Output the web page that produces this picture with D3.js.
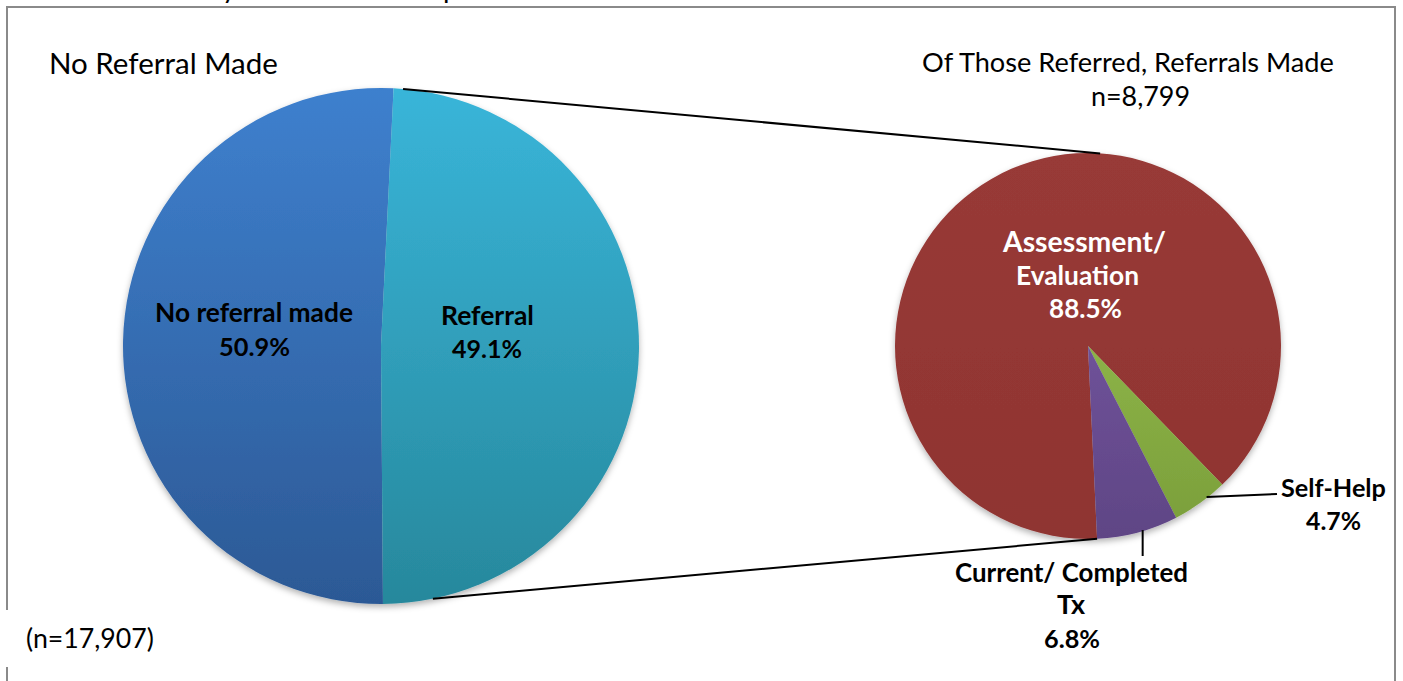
<!DOCTYPE html>
<html>
<head>
<meta charset="utf-8">
<script src="https://cdn.jsdelivr.net/npm/d3@7"></script>
<style>
  html, body { margin: 0; padding: 0; background: #fff; }
  svg { display: block; }
  text { font-family: Lato, "Open Sans", "DejaVu Sans", sans-serif; fill: #000; }
</style>
</head>
<body>
<svg id="chart" width="1403" height="681"></svg>
<script>
// Referral outcome, all screened (n=17,907)
const overallCategories = ["No referral made", "Referral"];
const overallValues = [50.9, 49.1];
const overallColors = [["#3e80ce", "#2c5995"], ["#39b5d9", "#27889c"]];

// Referral type, of those referred (n=8,799)
const referredCategories = ["Assessment/ Evaluation", "Self-Help", "Current/ Completed Tx"];
const referredValues = [88.5, 4.7, 6.8];
const referredColors = [["#983a37", "#8f3431"], ["#9ec755", "#7a9e3a"], ["#7e5fac", "#5f4585"]];

const svg = d3.select("#chart");
const W = 1403, H = 681;
const rad = d => d * Math.PI / 180;

const defs = svg.append("defs");
const shadow = defs.append("filter").attr("id", "pieShadow")
  .attr("x", "-10%").attr("y", "-10%").attr("width", "120%").attr("height", "125%");
shadow.append("feDropShadow").attr("dx", 0).attr("dy", 3).attr("stdDeviation", 3)
  .attr("flood-color", "#000").attr("flood-opacity", 0.3);

// frame
const frame = svg.append("g").attr("stroke", "#8a8a8a").attr("stroke-width", 2).attr("fill", "none");
frame.append("line").attr("x1", 6).attr("y1", 7).attr("x2", 1396).attr("y2", 7);
frame.append("line").attr("x1", 7).attr("y1", 6).attr("x2", 7).attr("y2", 610);
frame.append("line").attr("x1", 7).attr("y1", 667).attr("x2", 7).attr("y2", H);
frame.append("line").attr("x1", 1395).attr("y1", 6).attr("x2", 1395).attr("y2", H);

// descenders of the caption line above the frame
svg.append("text").attr("x", 222).attr("y", -2).attr("font-size", 28).text("y");
svg.append("text").attr("x", 443).attr("y", -2).attr("font-size", 28).text("p");

// vertical shading per slice, in the pie group's local coordinates
function gradient(id, r, stops) {
  const g = defs.append("linearGradient").attr("id", id)
    .attr("gradientUnits", "userSpaceOnUse")
    .attr("x1", 0).attr("x2", 0).attr("y1", -r).attr("y2", r);
  g.append("stop").attr("offset", "0%").attr("stop-color", stops[0]);
  g.append("stop").attr("offset", "100%").attr("stop-color", stops[1]);
}

function drawPie(cx, cy, r, cats, vals, colors, startDeg, idPrefix) {
  const data = cats.map((c, i) => ({ cat: c, v: vals[i], i }));
  const pie = d3.pie().sort(null).value(d => d.v)
    .startAngle(rad(startDeg)).endAngle(rad(startDeg) + 2 * Math.PI);
  const arcs = pie(data);
  const arc = d3.arc().innerRadius(0).outerRadius(r);
  colors.forEach((c, i) => gradient(idPrefix + i, r, c));
  const g = svg.append("g").attr("transform", `translate(${cx},${cy})`)
    .attr("filter", "url(#pieShadow)");
  g.selectAll("path").data(arcs).join("path")
    .attr("d", arc)
    .attr("fill", d => `url(#${idPrefix}${d.data.i})`);
  return arcs;
}

function pointOn(cx, cy, r, angleRad) {
  return [cx + r * Math.sin(angleRad), cy - r * Math.cos(angleRad)];
}

const L = { cx: 381, cy: 346, r: 258 };
const R = { cx: 1088, cy: 346, r: 193 };

// left pie: "No referral made" begins so that "Referral" opens just right of 12 o'clock
const leftStart = 2.8 - overallValues[0] / 100 * 360 + 360;
const leftArcs = drawPie(L.cx, L.cy, L.r, overallCategories, overallValues, overallColors, leftStart, "ov");
const rightArcs = drawPie(R.cx, R.cy, R.r, referredCategories, referredValues, referredColors, 177.3, "rf");

// connector lines between the referral slice and the breakdown pie
const refArc = leftArcs[1];
const conn = svg.append("g").attr("stroke", "#000").attr("stroke-width", 2);
const t1 = pointOn(L.cx, L.cy, L.r, refArc.startAngle + rad(2.1));
const t2 = pointOn(R.cx, R.cy, R.r, rad(3.6));
const b1 = pointOn(L.cx, L.cy, L.r, rad(168.4));
const b2 = pointOn(R.cx, R.cy, R.r, rightArcs[0].startAngle);
conn.append("line").attr("x1", t1[0]).attr("y1", t1[1]).attr("x2", t2[0]).attr("y2", t2[1]);
conn.append("line").attr("x1", b1[0]).attr("y1", b1[1]).attr("x2", b2[0]).attr("y2", b2[1]);

// leader lines for the small slices
const selfMid = (rightArcs[1].startAngle + rightArcs[1].endAngle) / 2;
const curMid = (rightArcs[2].startAngle + rightArcs[2].endAngle) / 2;
const s0 = pointOn(R.cx, R.cy, R.r - 1, selfMid - rad(2.5));
const c0 = pointOn(R.cx, R.cy, R.r - 1, curMid - rad(1.6));
conn.append("line").attr("x1", s0[0]).attr("y1", s0[1]).attr("x2", 1277).attr("y2", 494);
conn.append("line").attr("x1", c0[0]).attr("y1", c0[1]).attr("x2", c0[0]).attr("y2", 556);

// text helper: fits the string to a target width at the given anchor
function label(str, x, y, width, opts = {}) {
  const t = svg.append("text")
    .attr("x", x).attr("y", y)
    .attr("text-anchor", opts.anchor || "middle")
    .attr("font-weight", opts.bold ? 700 : 400)
    .attr("font-size", 24)
    .style("fill", opts.color || "#000")
    .text(str);
  const w = t.node().getComputedTextLength();
  t.attr("font-size", 24 * width / w);
  return t;
}

// titles
label("No Referral Made", 49, 74, 229, { anchor: "start" });
label("Of Those Referred, Referrals Made", 1128, 72, 412);
label("n=8,799", 1140.5, 106, 99);
label("(n=17,907)", 26, 648, 128, { anchor: "start" });

// slice labels, left pie
const pct = v => v.toFixed(1) + "%";
label(overallCategories[0], 254, 322, 198, { bold: true });
label(pct(overallValues[0]), 254.5, 356, 71, { bold: true });
label(overallCategories[1], 487.5, 325, 93, { bold: true });
label(pct(overallValues[1]), 487, 358, 70, { bold: true });

// slice labels, right pie
label("Assessment/", 1084.5, 252, 163, { bold: true, color: "#fff" });
label("Evaluation", 1077.5, 285, 123, { bold: true, color: "#fff" });
label(pct(referredValues[0]), 1085.5, 318, 73, { bold: true, color: "#fff" });
label(referredCategories[1], 1333.5, 497, 105, { bold: true });
label(pct(referredValues[1]), 1333.5, 530, 55, { bold: true });
label("Current/ Completed", 1071.5, 582, 233, { bold: true });
label("Tx", 1071, 614, 28, { bold: true });
label(pct(referredValues[2]), 1072, 648, 56, { bold: true });
</script>
</body>
</html>
